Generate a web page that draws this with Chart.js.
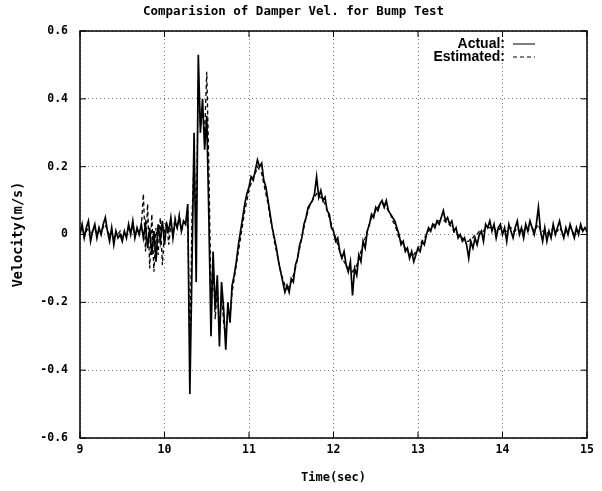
<!DOCTYPE html>
<html lang="en">
<head>
<meta charset="UTF-8" />
<title>Comparision of Damper Vel. for Bump Test</title>
<script src="https://cdn.jsdelivr.net/npm/chart.js"></script>
<style>
    body {
        margin: 0;
        background: #fff;
    }
    .chart-wrap {
        width: 602px;
        height: 491px;
    }
</style>
</head>
<body>
<div class="chart-wrap"><canvas id="velChart"></canvas></div>
<script>
    // sampled every 0.025 s from 9 s to 15 s
    const startTime = 9;
    const sampleStep = 0.025;

    const actualVel = [
        0.00, 0.03, -0.01, 0.02, 0.04, -0.02, 0.01, 0.03, -0.01, 0.02,     // 9.00
        0.00, 0.03, 0.05, 0.01, -0.02, 0.02, -0.03, 0.01, -0.01, 0.00,     // 9.25
        -0.02, 0.01, -0.01, 0.03, 0.00, 0.04, -0.01, 0.02, 0.00, 0.03,     // 9.50
        -0.01, 0.03, -0.04, 0.02, -0.06, 0.01, -0.08, 0.03, -0.02, 0.04,   // 9.75
        -0.03, 0.03, 0.01, 0.05, -0.01, 0.04, 0.02, 0.05, 0.01, 0.04,      // 10.00
        0.03, 0.09, -0.47, -0.10, 0.30, -0.14, 0.53, 0.30, 0.40, 0.25,     // 10.25
        0.35, 0.05, -0.30, -0.05, -0.22, -0.12, -0.33, -0.14, -0.22, -0.34, // 10.50
        -0.20, -0.26, -0.15, -0.12, -0.08, -0.03, 0.01, 0.05, 0.09, 0.12,  // 10.75
        0.14, 0.17, 0.16, 0.19, 0.22, 0.20, 0.21, 0.16, 0.14, 0.10,        // 11.00
        0.06, 0.02, -0.01, -0.04, -0.08, -0.11, -0.14, -0.17, -0.15, -0.17, // 11.25
        -0.13, -0.14, -0.09, -0.07, -0.03, -0.01, 0.03, 0.05, 0.08, 0.09,  // 11.50
        0.10, 0.12, 0.17, 0.11, 0.13, 0.10, 0.11, 0.07, 0.06, 0.02,        // 11.75
        0.01, -0.02, -0.01, -0.05, -0.07, -0.05, -0.09, -0.11, -0.08, -0.18, // 12.00
        -0.10, -0.12, -0.06, -0.08, -0.02, -0.04, 0.01, 0.03, 0.06, 0.05,  // 12.25
        0.08, 0.07, 0.09, 0.10, 0.08, 0.10, 0.07, 0.06, 0.05, 0.04,        // 12.50
        0.02, 0.00, -0.03, -0.02, -0.05, -0.04, -0.07, -0.05, -0.08, -0.06, // 12.75
        -0.04, -0.05, -0.02, -0.03, 0.00, 0.02, 0.01, 0.03, 0.02, 0.04,    // 13.00
        0.03, 0.05, 0.07, 0.04, 0.05, 0.03, 0.04, 0.01, 0.02, -0.01,       // 13.25
        0.00, -0.02, -0.01, -0.03, -0.07, -0.02, -0.04, -0.01, -0.03, 0.00, // 13.50
        0.01, -0.02, 0.03, 0.02, 0.04, 0.01, 0.03, -0.01, 0.02, 0.03,      // 13.75
        0.00, 0.02, -0.02, 0.03, 0.01, -0.01, 0.02, 0.04, 0.00, 0.02,      // 14.00
        -0.01, 0.03, 0.01, 0.04, 0.02, 0.00, 0.03, 0.08, 0.01, -0.02,      // 14.25
        0.02, -0.02, 0.01, -0.01, 0.03, 0.00, 0.02, 0.04, 0.01, -0.01,     // 14.50
        0.02, 0.00, 0.03, 0.01, -0.01, 0.02, 0.00, 0.03, 0.01, 0.02,       // 14.75
        0.01                                                               // 15.00
    ];

    const estimatedVel = [
        0.01, 0.02, 0.00, 0.01, 0.02, 0.00, 0.01, 0.02, 0.00, 0.01,        // 9.00
        0.01, 0.02, 0.03, 0.01, 0.00, 0.01, -0.01, 0.00, 0.00, 0.01,       // 9.25
        -0.01, 0.00, 0.00, 0.02, 0.01, 0.02, 0.00, 0.01, 0.01, 0.02,       // 9.50
        0.12, -0.05, 0.09, -0.10, 0.06, -0.11, 0.02, -0.06, 0.05, -0.09,   // 9.75
        0.01, 0.04, -0.03, 0.03, 0.00, 0.05, 0.02, 0.06, 0.01, 0.03,       // 10.00
        0.04, 0.06, -0.35, 0.05, 0.22, 0.02, 0.45, 0.32, 0.36, 0.30,       // 10.25
        0.48, 0.20, -0.18, -0.08, -0.25, -0.15, -0.29, -0.18, -0.26, -0.30, // 10.50
        -0.22, -0.24, -0.17, -0.13, -0.09, -0.05, -0.01, 0.03, 0.07, 0.10, // 10.75
        0.13, 0.15, 0.17, 0.18, 0.20, 0.19, 0.18, 0.15, 0.12, 0.09,        // 11.00
        0.05, 0.02, -0.02, -0.05, -0.08, -0.11, -0.13, -0.15, -0.16, -0.15, // 11.25
        -0.14, -0.12, -0.10, -0.07, -0.04, -0.01, 0.02, 0.05, 0.07, 0.09,  // 11.50
        0.10, 0.11, 0.12, 0.11, 0.11, 0.10, 0.09, 0.07, 0.05, 0.03,        // 11.75
        0.01, -0.01, -0.03, -0.05, -0.07, -0.08, -0.09, -0.10, -0.10, -0.11, // 12.00
        -0.10, -0.09, -0.07, -0.05, -0.03, -0.01, 0.01, 0.03, 0.05, 0.06,  // 12.25
        0.07, 0.08, 0.09, 0.09, 0.09, 0.08, 0.07, 0.06, 0.04, 0.03,        // 12.50
        0.01, -0.01, -0.02, -0.03, -0.04, -0.05, -0.06, -0.06, -0.06, -0.05, // 12.75
        -0.04, -0.03, -0.02, -0.01, 0.00, 0.01, 0.02, 0.03, 0.03, 0.04,    // 13.00
        0.04, 0.04, 0.04, 0.04, 0.03, 0.03, 0.02, 0.01, 0.00, 0.00,        // 13.25
        -0.01, -0.01, -0.02, -0.02, -0.02, -0.01, -0.01, 0.00, 0.00, 0.01, // 13.50
        0.01, 0.01, 0.02, 0.02, 0.02, 0.02, 0.02, 0.01, 0.01, 0.02,        // 13.75
        0.01, 0.01, 0.01, 0.02, 0.02, 0.01, 0.01, 0.02, 0.01, 0.01,        // 14.00
        0.01, 0.02, 0.01, 0.02, 0.02, 0.01, 0.02, 0.03, 0.01, 0.01,        // 14.25
        0.01, 0.00, 0.01, 0.01, 0.02, 0.01, 0.01, 0.02, 0.01, 0.00,        // 14.50
        0.01, 0.01, 0.02, 0.01, 0.00, 0.01, 0.01, 0.02, 0.01, 0.01,        // 14.75
        0.01                                                               // 15.00
    ];

    const seriesNames = ['Actual', 'Estimated'];
    const timeTicks = [9, 10, 11, 12, 13, 14, 15];
    const velTicks = [-0.6, -0.4, -0.2, 0, 0.2, 0.4, 0.6];

    const sampleTimes = actualVel.map((_, i) => +(startTime + i * sampleStep).toFixed(3));
    const toPoints = vals => vals.map((v, i) => ({ x: sampleTimes[i], y: v }));

    const monoBold = size => ({ family: '"DejaVu Sans Mono", monospace', size: size, weight: 'bold' });

    // box round the plot, inward tick marks, and the legend inside the top right
    const frameAndLegend = {
        id: 'frameAndLegend',
        afterDraw(chart) {
            const { ctx, chartArea: a, scales } = chart;
            ctx.save();
            ctx.strokeStyle = '#000';
            ctx.lineWidth = 1.5;
            ctx.strokeRect(a.left, a.top, a.right - a.left, a.bottom - a.top);

            ctx.lineWidth = 1;
            ctx.beginPath();
            timeTicks.forEach(t => {
                const px = scales.x.getPixelForValue(t);
                ctx.moveTo(px, a.bottom); ctx.lineTo(px, a.bottom - 6);
                ctx.moveTo(px, a.top); ctx.lineTo(px, a.top + 6);
            });
            velTicks.forEach(v => {
                const py = scales.y.getPixelForValue(v);
                ctx.moveTo(a.left, py); ctx.lineTo(a.left + 6, py);
                ctx.moveTo(a.right, py); ctx.lineTo(a.right - 6, py);
            });
            ctx.stroke();

            ctx.font = 'bold 14px "Liberation Sans", Arial, sans-serif';
            ctx.textAlign = 'right';
            ctx.textBaseline = 'middle';
            ctx.fillStyle = '#000';
            chart.data.datasets.forEach((ds, i) => {
                const y = a.top + 13 + i * 13;
                ctx.fillText(ds.label + ':', a.right - 82, y);
                ctx.setLineDash(ds.borderDash || []);
                ctx.beginPath();
                ctx.moveTo(a.right - 74, y);
                ctx.lineTo(a.right - 52, y);
                ctx.stroke();
                ctx.setLineDash([]);
            });
            ctx.restore();
        }
    };

    new Chart(document.getElementById('velChart'), {
        type: 'line',
        data: {
            datasets: [{
                label: seriesNames[0],
                data: toPoints(actualVel),
                borderColor: '#000',
                borderWidth: 1.7,
                pointRadius: 0,
                tension: 0
            }, {
                label: seriesNames[1],
                data: toPoints(estimatedVel),
                borderColor: '#000',
                borderWidth: 1.3,
                borderDash: [4, 3],
                pointRadius: 0,
                tension: 0
            }]
        },
        options: {
            responsive: true,
            maintainAspectRatio: false,
            animation: false,
            layout: { padding: { top: 0, right: 15, bottom: 0, left: 0 } },
            plugins: {
                legend: { display: false },
                tooltip: { enabled: false },
                title: {
                    display: true,
                    text: 'Comparision of Damper Vel. for Bump Test',
                    color: '#000',
                    font: monoBold(12.5),
                    padding: { top: 4, bottom: 12 }
                }
            },
            scales: {
                x: {
                    type: 'linear',
                    min: 9,
                    max: 15,
                    afterFit: s => { s.height = 53; },
                    afterBuildTicks: s => { s.ticks = timeTicks.map(v => ({ value: v })); },
                    ticks: { color: '#000', font: monoBold(11.5), padding: 5, maxRotation: 0 },
                    grid: { color: '#777', drawTicks: false },
                    border: { display: false, dash: [1, 3] },
                    title: {
                        display: true,
                        text: 'Time(sec)',
                        color: '#000',
                        font: monoBold(12),
                        padding: { top: 0, bottom: 6 }
                    }
                },
                y: {
                    min: -0.6,
                    max: 0.6,
                    afterFit: s => { s.width = 80; },
                    afterBuildTicks: s => { s.ticks = velTicks.map(v => ({ value: v })); },
                    ticks: {
                        color: '#000',
                        font: monoBold(11.5),
                        padding: 12,
                        callback: v => (Math.abs(v) < 1e-9 ? '0' : v.toFixed(1))
                    },
                    grid: { color: '#777', drawTicks: false },
                    border: { display: false, dash: [1, 3] },
                    title: {
                        display: true,
                        text: 'Velocity(m/s)',
                        color: '#000',
                        font: monoBold(13.5),
                        padding: { top: 10, bottom: 0 }
                    }
                }
            }
        },
        plugins: [frameAndLegend]
    });
</script>
</body>
</html>
